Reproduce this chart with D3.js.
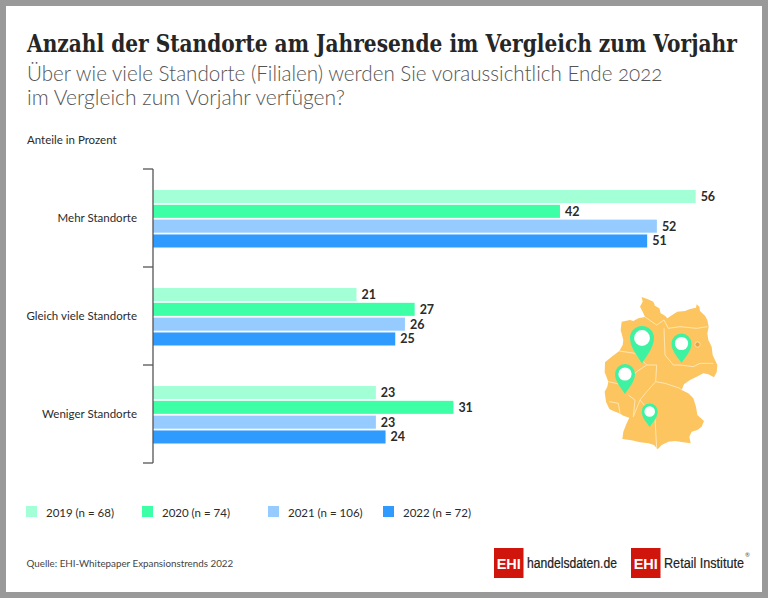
<!DOCTYPE html>
<html lang="de">
<head>
  <meta charset="utf-8">
  <title>Anzahl der Standorte am Jahresende</title>
  <script src="https://d3js.org/d3.v7.min.js"></script>
  <style>
    html, body { margin: 0; padding: 0; background: #fff; }
    svg { display: block; }
    text { font-family: "Lato", sans-serif; fill: #2b2b2b; }
  </style>
</head>
<body>
<div id="chart"></div>
<script>
// data
var categories = ["Mehr Standorte", "Gleich viele Standorte", "Weniger Standorte"];
var years = ["2019", "2020", "2021", "2022"];
var legendLabels = ["2019 (n = 68)", "2020 (n = 74)", "2021 (n = 106)", "2022 (n = 72)"];
var values2019 = [56, 21, 23];
var values2020 = [42, 27, 31];
var values2021 = [52, 26, 23];
var values2022 = [51, 25, 24];
var seriesValues = [values2019, values2020, values2021, values2022];
var colors = ["#a3ffd6", "#3dffa6", "#96cbff", "#2f9bff"];

var width = 768, height = 598;

var svg = d3.select("#chart").append("svg")
    .attr("width", width)
    .attr("height", height);

// squeeze a text sideways so that it takes the wanted width
function fitWidth(sel, xPos, yPos, w) {
  var len = sel.node().getComputedTextLength();
  sel.attr("transform", "translate(" + xPos + "," + yPos + ") scale(" + (w / len) + ",1)");
  return sel;
}

// grey frame
svg.append("rect").attr("width", width).attr("height", height).attr("fill", "#999");
svg.append("rect").attr("x", 6).attr("y", 6).attr("width", 756).attr("height", 586).attr("fill", "#fff");

// headings
fitWidth(svg.append("text")
    .style("font-family", "'DejaVu Serif', serif").style("font-weight", 700).style("font-size", "25px")
    .style("fill", "#262626")
    .text("Anzahl der Standorte am Jahresende im Vergleich zum Vorjahr"), 27, 52, 710);
fitWidth(svg.append("text")
    .style("font-weight", 300).style("font-size", "21.5px").style("fill", "#555")
    .style("font-variant-numeric", "oldstyle-nums")
    .text("Über wie viele Standorte (Filialen) werden Sie voraussichtlich Ende 2022"), 27, 81, 636);
fitWidth(svg.append("text")
    .style("font-weight", 300).style("font-size", "21.5px").style("fill", "#555")
    .text("im Vergleich zum Vorjahr verfügen?"), 27, 104.5, 318);
svg.append("text").attr("x", 27).attr("y", 144)
    .style("font-size", "11.5px")
    .text("Anteile in Prozent");

// scales
var x = d3.scaleLinear().domain([0, 60]).range([153, 734.4]);
var y = d3.scaleBand().domain(categories).range([169, 463]);
var yInner = d3.scaleBand().domain(years).range([21, 78.5]).paddingInner(0.12);

// bars
var groups = svg.append("g").selectAll("g")
  .data(years)
  .enter().append("g")
    .attr("fill", function(d, i) { return colors[i]; });

groups.selectAll("rect")
  .data(function(d, i) { return seriesValues[i].map(function(v, j) { return {year: d, cat: categories[j], value: v}; }); })
  .enter().append("rect")
    .attr("x", x(0))
    .attr("y", function(d) { return y(d.cat) + yInner(d.year); })
    .attr("width", function(d) { return x(d.value) - x(0); })
    .attr("height", yInner.bandwidth());

groups.selectAll("text")
  .data(function(d, i) { return seriesValues[i].map(function(v, j) { return {year: d, cat: categories[j], value: v}; }); })
  .enter().append("text")
    .attr("x", function(d) { return x(d.value) + 5; })
    .attr("y", function(d) { return y(d.cat) + yInner(d.year) + yInner.bandwidth() / 2 + 4.5; })
    .style("font-size", "12.5px").style("font-weight", 700)
    .text(function(d) { return d.value; });

// bracket axis: ticks sit on the category boundaries
var axis = svg.append("g").attr("stroke", "#555").attr("stroke-width", 1.3);
axis.append("line").attr("x1", x(0)).attr("x2", x(0)).attr("y1", y.range()[0]).attr("y2", y.range()[1]);
axis.selectAll(".tick")
  .data(categories.concat("end"))
  .enter().append("line")
    .attr("class", "tick")
    .attr("x1", x(0) - 10).attr("x2", x(0))
    .attr("y1", function(d, i) { return y.range()[0] + i * y.step(); })
    .attr("y2", function(d, i) { return y.range()[0] + i * y.step(); });

svg.append("g").selectAll("text")
  .data(categories)
  .enter().append("text")
    .attr("x", 137)
    .attr("y", function(d) { return y(d) + y.bandwidth() / 2 + 4; })
    .attr("text-anchor", "end")
    .style("font-size", "11.5px")
    .text(function(d) { return d; });

// legend
var legendX = [26, 142, 268, 383];
var legend = svg.append("g").selectAll("g")
  .data(legendLabels)
  .enter().append("g")
    .attr("transform", function(d, i) { return "translate(" + legendX[i] + ",506)"; });
legend.append("rect").attr("width", 11).attr("height", 11)
    .attr("fill", function(d, i) { return colors[i]; });
legend.append("text").attr("x", 20).attr("y", 10.5)
    .style("font-size", "11.5px")
    .text(function(d) { return d; });

svg.append("text").attr("x", 26.5).attr("y", 567)
    .style("font-size", "9.8px").style("fill", "#444")
    .text("Quelle: EHI-Whitepaper Expansionstrends 2022");

// Germany map (decoration, outline)
var mapOutline = [[155,36],[172,42],[190,50],[195,62],[208,70],[212,85],[225,92],[232,100],[250,88],[262,80],[285,78],[300,72],[318,68],[320,58],[328,65],[330,78],[345,92],[352,105],[356,125],[352,145],[355,165],[365,185],[368,210],[382,240],[380,262],[372,277],[355,268],[340,265],[320,275],[300,285],[282,298],[275,315],[295,325],[310,340],[318,365],[322,390],[342,408],[335,425],[322,435],[305,440],[298,455],[302,475],[280,472],[255,468],[235,470],[215,480],[203,493],[192,480],[175,475],[150,472],[125,466],[97,462],[100,440],[110,415],[118,398],[100,392],[88,385],[70,378],[58,372],[48,350],[44,320],[52,305],[55,290],[44,262],[45,232],[65,215],[88,198],[98,180],[100,165],[92,135],[95,110],[120,105],[130,108],[145,100],[165,96],[158,80],[150,65],[158,50]];
var mapBorders = [
  [[222,105],[235,130],[270,125],[320,130],[352,125]],
  [[165,96],[200,120],[222,105]],
  [[222,130],[225,210],[250,240],[270,240],[310,245],[330,235],[370,235]],
  [[200,240],[197,290],[225,295],[270,310],[275,315]],
  [[88,198],[135,205],[170,240],[200,240]],
  [[55,290],[100,300],[140,260],[170,240]],
  [[197,290],[170,320],[150,345],[195,400],[200,490]],
  [[58,350],[85,355],[90,385]],
  [[115,330],[135,345],[130,395]],
  [[130,395],[150,345]]
];
var mapLine = d3.line()
    .x(function(d) { return 590 + d[0] / 3; })
    .y(function(d) { return 285 + d[1] / 3; });
var map = svg.append("g");
map.append("path").attr("d", mapLine(mapOutline) + "Z").attr("fill", "#fdc55f");
map.selectAll(".border").data(mapBorders).enter().append("path")
    .attr("class", "border")
    .attr("d", mapLine)
    .attr("fill", "none").attr("stroke", "#ffe9b8").attr("stroke-width", 0.9);
// Berlin
map.append("circle").attr("cx", 697.5).attr("cy", 344.5).attr("r", 2.6)
    .attr("fill", "#e8a53a").attr("stroke", "#ffe9b8").attr("stroke-width", 0.8);

// pins: head centre, radius, tip
var pins = [[642, 338, 12, 363.5], [681.5, 343.5, 10, 363], [625, 374, 10, 394], [649.7, 411.5, 8, 427]];
pins.forEach(function(p) {
  var cx = p[0], cy = p[1], r = p[2], tip = p[3];
  var pin = map.append("g");
  pin.append("path")
      .attr("d", "M" + (cx - r) + "," + cy
        + "A" + r + "," + r + " 0 1 1 " + (cx + r) + "," + cy
        + "C" + (cx + r) + "," + (cy + r * 0.8) + " " + (cx + r * 0.3) + "," + (tip - r * 0.5) + " " + cx + "," + tip
        + "C" + (cx - r * 0.3) + "," + (tip - r * 0.5) + " " + (cx - r) + "," + (cy + r * 0.8) + " " + (cx - r) + "," + cy + "Z")
      .attr("fill", "#3ff2a2");
  pin.append("circle").attr("cx", cx).attr("cy", cy).attr("r", r * 0.66).attr("fill", "#fff");
});

// logos
function logo(xPos) {
  svg.append("rect").attr("x", xPos).attr("y", 548).attr("width", 29.5).attr("height", 30).attr("fill", "#d0150d");
  svg.append("text").attr("x", xPos + 14.75).attr("y", 568.5).attr("text-anchor", "middle")
      .style("font-family", "'Liberation Sans', sans-serif").style("font-weight", 700).style("font-size", "14.5px").style("fill", "#fff")
      .text("EHI");
  return svg.append("text")
      .style("font-family", "'Liberation Sans', sans-serif").style("font-size", "15.5px").style("fill", "#222");
}
var first = logo(494).style("font-weight", 500).style("stroke", "#222").style("stroke-width", 0.25);
first.append("tspan").text("handelsdaten");
first.append("tspan").style("fill", "#d0150d").style("stroke", "#d0150d").text(".");
first.append("tspan").text("de");
fitWidth(first, 527, 568, 90);
fitWidth(logo(631).style("stroke", "#222").style("stroke-width", 0.2).text("Retail Institute"), 664, 568, 80);
svg.append("text").attr("x", 745).attr("y", 557).style("font-size", "6px").style("fill", "#555").text("®");
</script>
</body>
</html>
